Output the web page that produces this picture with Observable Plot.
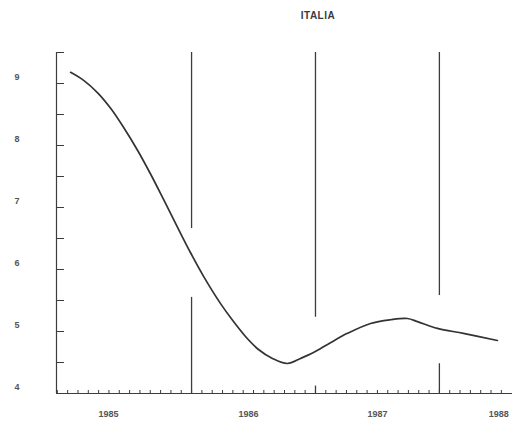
<!DOCTYPE html>
<html>
<head>
<meta charset="utf-8">
<script src="https://cdn.jsdelivr.net/npm/d3@7"></script>
<script src="https://cdn.jsdelivr.net/npm/@observablehq/plot@0.6"></script>
<style>
  html, body { margin: 0; padding: 0; background: #ffffff; }
  #wrap { position: relative; width: 512px; height: 430px; overflow: hidden; }
  #title { position: absolute; top: 10px; left: 318px; transform: translateX(-50%);
           font-family: "Liberation Sans", Arial, sans-serif; font-size: 10px; font-weight: bold;
           color: #3a3a3a; letter-spacing: 0.5px; }
</style>
</head>
<body>
<div id="wrap"><div id="title">ITALIA</div></div>
<script>
// Curve (time in fractional years, value)
const times  = [1985.024, 1985.129, 1985.242, 1985.347, 1985.452, 1985.565, 1985.669, 1985.774, 1985.887, 1985.992,
                1986.097, 1986.234, 1986.331, 1986.435, 1986.540, 1986.653, 1986.774, 1986.879, 1986.984, 1987.121,
                1987.258, 1987.444, 1987.605, 1987.742, 1987.823, 1987.984, 1988.194, 1988.468];
const values = [9.18, 9.05, 8.85, 8.60, 8.29, 7.92, 7.54, 7.13, 6.68, 6.27,
                5.89, 5.45, 5.18, 4.92, 4.71, 4.565, 4.484, 4.565, 4.66, 4.82,
                4.97, 5.13, 5.19, 5.21, 5.16, 5.05, 4.97, 4.855];

// Year boundary lines (broken around the curve): x, from value, to value
const boundaryX  = [1986, 1986, 1987, 1987, 1988, 1988];
const boundaryY1 = [9.5, 5.55, 9.5, 4.12, 9.5, 4.48];
const boundaryY2 = [6.66, 4.0, 5.23, 4.0, 5.58, 4.0];

// Axis labels
const yLabels = [4, 5, 6, 7, 8, 9];
const yearLabels = ["1985", "1986", "1987", "1988"];
const yearLabelAt = [1985.33, 1986.46, 1987.5, 1988.48];

const curve = times.map((t, i) => ({t, v: values[i]}));
const bounds = boundaryX.map((x, i) => ({x, y1: boundaryY1[i], y2: boundaryY2[i]}));
const yearTbl = yearLabels.map((s, i) => ({s, x: yearLabelAt[i]}));
const monthTicks = d3.range(0, 44).map(k => 1984 + 11/12 + k / 12);

const ink = "#3c3c3c";
const chart = Plot.plot({
  width: 512,
  height: 430,
  marginLeft: 56,
  marginRight: 0,
  marginTop: 52,
  marginBottom: 37,
  style: {fontFamily: "'Liberation Sans', Arial, sans-serif", background: "transparent"},
  x: {domain: [1984.91, 1988.59]},
  y: {domain: [4, 9.5]},
  marks: [
    // y axis line and inward ticks
    Plot.ruleX([1984.91], {y1: 4, y2: 9.5, stroke: ink, strokeWidth: 1.2}),
    Plot.axisY({ticks: d3.range(4, 9.51, 0.5), tickSize: -8, tickFormat: () => "", stroke: ink}),
    Plot.axisY({ticks: yLabels, tickSize: 0, tickPadding: 37, dy: -6, tickFormat: d => String(d), fontSize: 9, fill: "#555", fontWeight: "bold"}),
    // x axis line, monthly ticks
    Plot.ruleY([4], {stroke: ink, strokeWidth: 1.2}),
    Plot.axisX({ticks: monthTicks, tickSize: -3, tickFormat: () => "", stroke: ink}),
    Plot.text(yearTbl, {x: "x", y: 4, text: "s", dy: 21, fontSize: 9, fill: "#555", fontWeight: "bold"}),
    // year boundary lines
    Plot.ruleX(bounds, {x: "x", y1: "y1", y2: "y2", stroke: ink, strokeWidth: 1.3}),
    // the curve
    Plot.line(curve, {x: "t", y: "v", curve: "catmull-rom", stroke: "#333", strokeWidth: 1.7})
  ]
});
document.getElementById("wrap").appendChild(chart);
</script>
</body>
</html>
